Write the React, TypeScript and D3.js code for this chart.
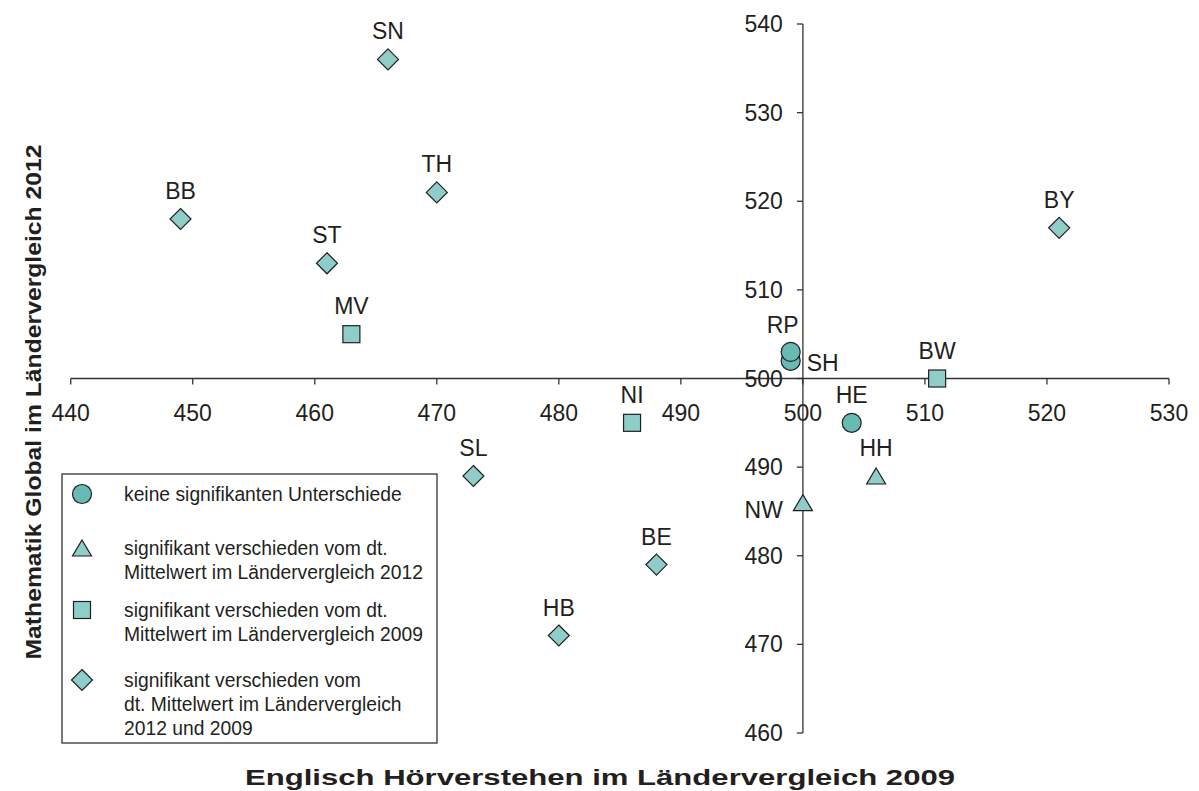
import React from "react";
import * as d3 from "d3";

const states = ["SN", "BB", "TH", "ST", "MV", "BY", "RP", "SH", "BW", "NI", "HE", "HH", "NW", "SL", "BE", "HB"];
const english2009 = [466, 449, 470, 461, 463, 521, 499, 499, 511, 486, 504, 506, 500, 473, 488, 480];
const math2012 = [536, 518, 521, 513, 505, 517, 503, 502, 500, 495, 495, 489, 486, 489, 479, 471];
const groups = ["diamond", "diamond", "diamond", "diamond", "square", "diamond", "circle", "circle", "square", "square", "circle", "triangle", "triangle", "diamond", "diamond", "diamond"];
const labelPlacement = ["above", "above", "above", "above", "above", "above", "aboveLeft", "right", "above", "above", "above", "above", "leftBelow", "above", "above", "above"];

const xTicks = [440, 450, 460, 470, 480, 490, 500, 510, 520, 530];
const yTicks = [460, 470, 480, 490, 500, 510, 520, 530, 540];

const legendItems = [
  { shape: "circle", lines: ["keine signifikanten Unterschiede"] },
  { shape: "triangle", lines: ["signifikant verschieden vom dt.", "Mittelwert im Ländervergleich 2012"] },
  { shape: "square", lines: ["signifikant verschieden vom dt.", "Mittelwert im Ländervergleich 2009"] },
  { shape: "diamond", lines: ["signifikant verschieden vom", "dt. Mittelwert im Ländervergleich", "2012 und 2009"] },
];

const xTitle = "Englisch Hörverstehen im Ländervergleich 2009";
const yTitle = "Mathematik Global im Ländervergleich 2012";

const FONT = "'Liberation Sans', Arial, Helvetica, sans-serif";
const LIGHT = "#8ecdc8";
const DARK = "#67bbb3";
const STROKE = "#231f20";

function Marker({ shape, cx, cy }: { shape: string; cx: number; cy: number }) {
  if (shape === "circle") {
    return <circle cx={cx} cy={cy} r={9.5} fill={DARK} stroke={STROKE} strokeWidth={1.2} />;
  }
  if (shape === "square") {
    return <rect x={cx - 8.5} y={cy - 8.5} width={17} height={17} fill={LIGHT} stroke={STROKE} strokeWidth={1.2} />;
  }
  if (shape === "triangle") {
    const p = d3.path();
    p.moveTo(cx, cy - 8);
    p.lineTo(cx + 9.5, cy + 8);
    p.lineTo(cx - 9.5, cy + 8);
    p.closePath();
    return <path d={p.toString()} fill={LIGHT} stroke={STROKE} strokeWidth={1.2} />;
  }
  const p = d3.path();
  p.moveTo(cx, cy - 10.5);
  p.lineTo(cx + 10.5, cy);
  p.lineTo(cx, cy + 10.5);
  p.lineTo(cx - 10.5, cy);
  p.closePath();
  return <path d={p.toString()} fill={LIGHT} stroke={STROKE} strokeWidth={1.2} />;
}

export default function App() {
  const W = 1199;
  const H = 791;
  const x = d3.scaleLinear().domain([440, 530]).range([70.7, 1169]);
  const y = d3.scaleLinear().domain([460, 540]).range([733, 24]);
  const x0 = x(500);
  const y0 = y(500);

  const order = d3.range(states.length).sort((a, b) => math2012[a] - math2012[b]);

  return (
    <svg width={W} height={H} style={{ position: "absolute", left: 0, top: 0, background: "#fff" }} fontFamily={FONT}>
      <rect x={0} y={0} width={W} height={H} fill="#fff" />
      {/* X axis */}
      <line x1={x(440)} x2={x(530)} y1={y0} y2={y0} stroke="#333" strokeWidth={1.3} />
      {xTicks.map((t) => (
        <g key={"xt" + t}>
          <line x1={x(t)} x2={x(t)} y1={y0} y2={y0 + 6} stroke="#333" strokeWidth={1.3} />
          <text x={x(t)} y={y0 + 34} textAnchor="middle" dominantBaseline="central" fontSize={23} fill="#231f20">
            {t}
          </text>
        </g>
      ))}
      {/* Y axis */}
      <line x1={x0} x2={x0} y1={y(540)} y2={y(460)} stroke="#333" strokeWidth={1.3} />
      {yTicks.map((t) => (
        <g key={"yt" + t}>
          <line x1={x0 - 6} x2={x0} y1={y(t)} y2={y(t)} stroke="#333" strokeWidth={1.3} />
          <text x={x0 - 20} y={y(t)} textAnchor="end" dominantBaseline="central" fontSize={23} fill="#231f20">
            {t}
          </text>
        </g>
      ))}
      {/* Points */}
      {order.map((i) => (
        <Marker key={"m" + i} shape={groups[i]} cx={x(english2009[i])} cy={y(math2012[i])} />
      ))}
      {states.map((s, i) => {
        const cx = x(english2009[i]);
        const cy = y(math2012[i]);
        const pl = labelPlacement[i];
        let lx = cx;
        let ly = cy - 28;
        let anchor: "middle" | "start" | "end" = "middle";
        if (pl === "aboveLeft") {
          lx = cx - 8;
          ly = cy - 27;
        } else if (pl === "right") {
          lx = cx + 16;
          ly = cy + 2;
          anchor = "start";
        } else if (pl === "leftBelow") {
          lx = cx - 20;
          ly = cy + 7;
          anchor = "end";
        }
        return (
          <text key={"l" + s} x={lx} y={ly} textAnchor={anchor} dominantBaseline="central" fontSize={23} fill="#231f20">
            {s}
          </text>
        );
      })}
      {/* Legend */}
      <rect x={62} y={474} width={375} height={269} fill="#fff" stroke="#333" strokeWidth={1.3} />
      {legendItems.map((item, k) => {
        const rowY = [494, 548, 610, 680][k];
        return (
          <g key={"lg" + k}>
            <Marker shape={item.shape} cx={82} cy={rowY} />
            {item.lines.map((ln, j) => (
              <text key={j} x={124} y={rowY + j * 24} dominantBaseline="central" fontSize={19.3} fill="#231f20">
                {ln}
              </text>
            ))}
          </g>
        );
      })}
      {/* Axis titles */}
      <text x={600} y={777} textAnchor="middle" dominantBaseline="central" fontSize={22} fontWeight="bold" fill="#231f20" textLength={710} lengthAdjust="spacingAndGlyphs">
        {xTitle}
      </text>
      <text
        transform={`translate(33, 402) rotate(-90)`}
        textAnchor="middle"
        dominantBaseline="central"
        fontSize={22}
        fontWeight="bold"
        fill="#231f20"
        textLength={515}
        lengthAdjust="spacingAndGlyphs"
      >
        {yTitle}
      </text>
    </svg>
  );
}
